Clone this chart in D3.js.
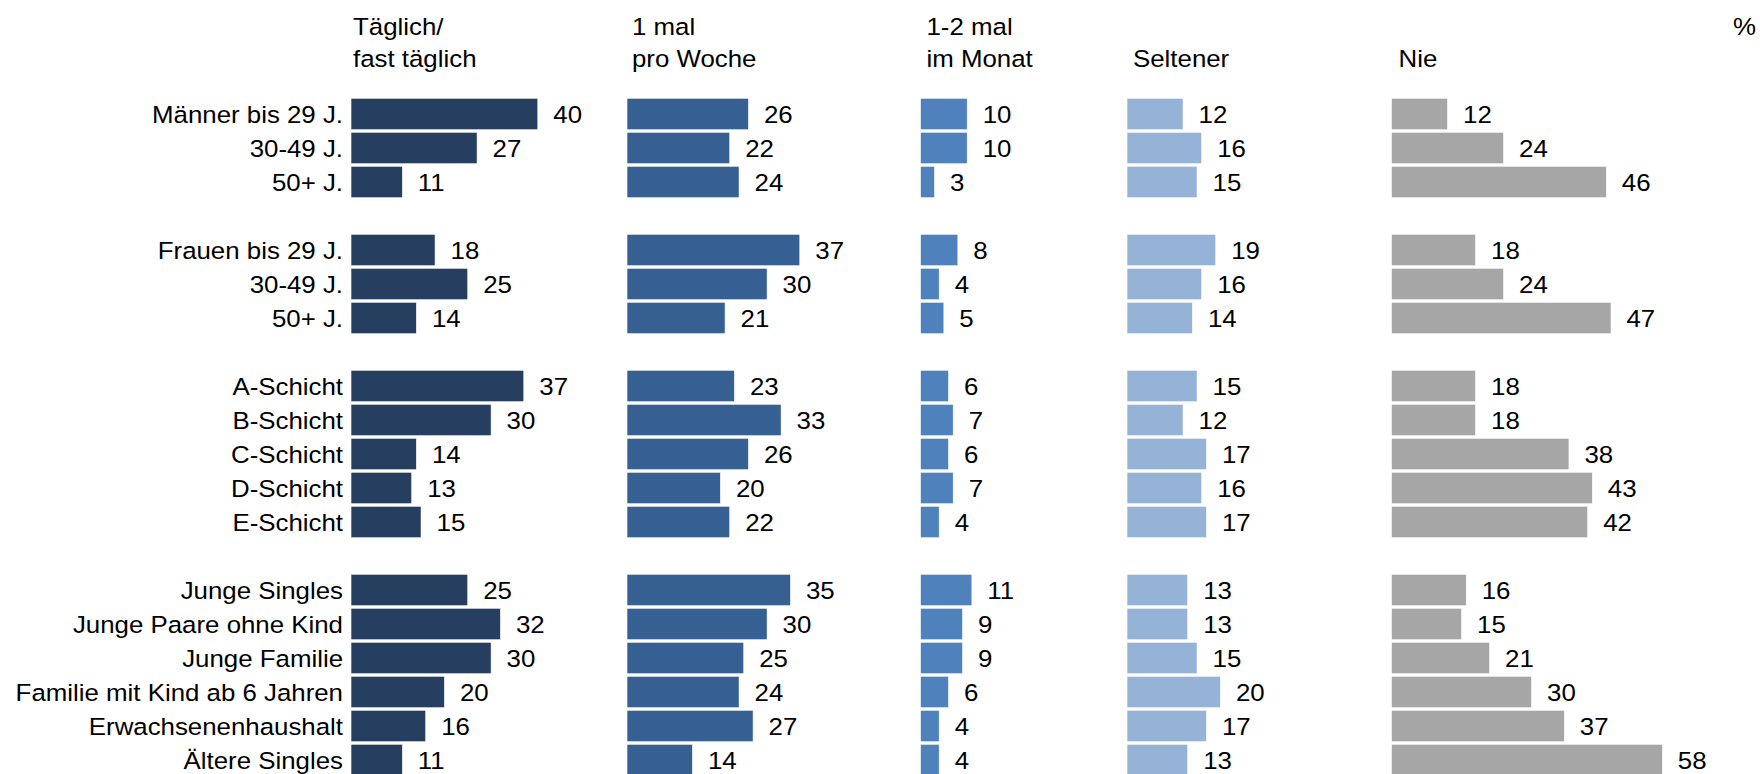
<!DOCTYPE html>
<html>
<head>
<meta charset="utf-8">
<script src="https://cdn.jsdelivr.net/npm/d3@7"></script>
<style>
    body { margin: 0; background: #ffffff; }
    text { font-family: "Liberation Sans", Arial, sans-serif; fill: #000000; }
</style>
</head>
<body>
<div id="chart"></div>
<script>

// row labels, grouped (an empty slot is left between groups)
var groups = [
    ["Männer bis 29 J.", "30-49 J.", "50+ J."],
    ["Frauen bis 29 J.", "30-49 J.", "50+ J."],
    ["A-Schicht", "B-Schicht", "C-Schicht", "D-Schicht", "E-Schicht"],
    ["Junge Singles", "Junge Paare ohne Kind", "Junge Familie", "Familie mit Kind ab 6 Jahren", "Erwachsenenhaushalt", "Ältere Singles"]
];

// column headers (two lines each)
var headers = [
    ["Täglich/", "fast täglich"],
    ["1 mal", "pro Woche"],
    ["1-2 mal", "im Monat"],
    ["", "Seltener"],
    ["", "Nie"]
];

// values per column, same order as the rows above
var taeglich  = [40, 27, 11, 18, 25, 14, 37, 30, 14, 13, 15, 25, 32, 30, 20, 16, 11];
var proWoche  = [26, 22, 24, 37, 30, 21, 23, 33, 26, 20, 22, 35, 30, 25, 24, 27, 14];
var imMonat   = [10, 10, 3, 8, 4, 5, 6, 7, 6, 7, 4, 11, 9, 9, 6, 4, 4];
var seltener  = [12, 16, 15, 19, 16, 14, 15, 12, 17, 16, 17, 13, 13, 15, 20, 17, 13];
var nie       = [12, 24, 46, 18, 24, 47, 18, 18, 38, 43, 42, 16, 15, 21, 30, 37, 58];

var series = [taeglich, proWoche, imMonat, seltener, nie];

// layout
var width = 1760, height = 774;
var colors = ["#263f61", "#376092", "#4f81bd", "#95b3d7", "#a6a6a6"];
var colX = [351, 627, 920.5, 1127, 1391.5];
var headerDx = [2, 5, 6, 6, 7];
var labelRight = 343;
var fontSize = 23.5;
var stretch = 1.1;

// build rows with slot index
var rows = [];
var slot = 0;
var k = 0;
groups.forEach(function(g, gi){
    g.forEach(function(name){
        rows.push({label: name, slot: slot, idx: k});
        slot++; k++;
    });
    if(gi < groups.length - 1) slot++;
});
var slots = d3.range(slot);

var y = d3.scaleBand()
    .domain(slots)
    .range([97, 97 + slot * 34])
    .paddingInner(0.075)
    .paddingOuter(0.0375);

var x = d3.scaleLinear().domain([0, 100]).range([0, 467]);

var svg = d3.select("#chart").append("svg")
    .attr("width", width)
    .attr("height", height);

// text in the source is slightly wider than plain Arial
function wideText(sel, tx, ty)
{
    return sel.attr("transform", "translate(" + tx + "," + ty + ") scale(" + stretch + ",1)")
        .style("font-size", fontSize + "px");
}

// row labels
rows.forEach(function(r){
    var cy = y(r.slot) + y.bandwidth() / 2;
    wideText(svg.append("text"), labelRight, cy + 9.3)
        .attr("text-anchor", "end")
        .text(r.label);
});

// columns
series.forEach(function(values, c){
    var g = svg.append("g").attr("transform", "translate(" + colX[c] + ",0)");

    g.selectAll("rect")
        .data(rows)
        .enter()
        .append("rect")
        .attr("x", 0)
        .attr("y", function(d){ return y(d.slot); })
        .attr("width", function(d){ return x(values[d.idx]); })
        .attr("height", y.bandwidth())
        .attr("fill", colors[c])
        .attr("stroke", "#ffffff")
        .attr("stroke-width", 0.6);

    g.selectAll("text.val")
        .data(rows)
        .enter()
        .append("text")
        .attr("class", "val")
        .each(function(d){
            var cy = y(d.slot) + y.bandwidth() / 2;
            wideText(d3.select(this), x(values[d.idx]) + 15.5, cy + 9.3);
        })
        .text(function(d){ return values[d.idx]; });

    // header, two lines
    headers[c].forEach(function(line, li){
        if(line == "") return;
        wideText(g.append("text"), headerDx[c], li == 0 ? 34.5 : 66.5)
            .text(line);
    });
});

wideText(svg.append("text"), 1756, 34.5)
    .attr("text-anchor", "end")
    .text("%");

</script>
</body>
</html>
